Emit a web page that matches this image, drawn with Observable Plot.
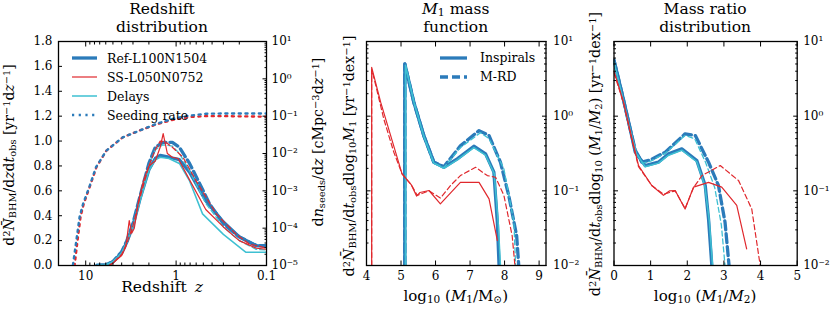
<!DOCTYPE html>
<html><head><meta charset="utf-8">
<script src="https://cdn.jsdelivr.net/npm/d3@7"></script>
<script src="https://cdn.jsdelivr.net/npm/@observablehq/plot@0.6"></script>
<style>
body{margin:0;background:#fff}
#chart{position:relative;width:830px;height:312px;font-family:"DejaVu Serif",serif;color:#000;overflow:hidden}
.lab{position:absolute;white-space:nowrap;line-height:0.7}
sub{font-size:70%;line-height:0;vertical-align:-0.22em}
sup{font-size:70%;line-height:0;vertical-align:0.45em}
.leg{position:absolute;display:flex;align-items:center;height:18px;font-size:12.5px;white-space:nowrap}
</style></head><body><div id="chart"></div>
<script>
// ---------- Panel 1: redshift distribution (left axis, linear) ----------
const refInsZ = [7.5, 6, 5, 4, 3.5, 3, 2.5, 2, 1.7, 1.5, 1.2, 0.92, 0.71, 0.47, 0.3, 0.2, 0.13, 0.1];
const refInsN = [0, 0.005, 0.03, 0.1, 0.19, 0.32, 0.54, 0.77, 0.86, 0.885, 0.87, 0.85, 0.75, 0.52, 0.35, 0.23, 0.16, 0.155];
const refMrdZ = [7.5, 6, 5, 4, 3.5, 3, 2.5, 2, 1.7, 1.4, 1.1, 0.92, 0.71, 0.55, 0.43, 0.3, 0.2, 0.13, 0.1];
const refMrdN = [0, 0.005, 0.03, 0.11, 0.2, 0.34, 0.56, 0.82, 0.95, 0.99, 0.99, 0.95, 0.82, 0.66, 0.5, 0.335, 0.23, 0.16, 0.16];
const ssInsZ = [7, 5.5, 5, 4, 3.6, 3.3, 3.1, 2.9, 2.6, 2.3, 2.0, 1.7, 1.5, 1.39, 1.25, 1.1, 0.95, 0.7, 0.47, 0.3, 0.2, 0.13, 0.1];
const ssInsN = [0, 0, 0.02, 0.08, 0.15, 0.36, 0.26, 0.3, 0.52, 0.68, 0.8, 0.84, 0.95, 1.06, 0.9, 0.87, 0.86, 0.68, 0.45, 0.31, 0.2, 0.14, 0.13];
const ssMrdZ = [7, 5.5, 5, 4, 3.5, 3, 2.5, 2, 1.7, 1.5, 1.3, 1.1, 0.84, 0.6, 0.36, 0.22, 0.155, 0.1];
const ssMrdN = [0, 0, 0.02, 0.09, 0.18, 0.32, 0.55, 0.8, 0.93, 1.0, 0.99, 0.95, 0.87, 0.68, 0.415, 0.255, 0.174, 0.14];
const delInsZ = [7.5, 6, 5, 4, 3.5, 3, 2.5, 2, 1.7, 1.5, 1.2, 0.92, 0.71, 0.51, 0.3, 0.17, 0.1];
const delInsN = [0, 0.005, 0.03, 0.1, 0.19, 0.31, 0.52, 0.76, 0.85, 0.87, 0.86, 0.82, 0.68, 0.415, 0.25, 0.107, 0.107];
const delMrdZ = [7.5, 6, 5, 4, 3.5, 3, 2.5, 2, 1.7, 1.4, 1.1, 0.92, 0.71, 0.47, 0.3, 0.2, 0.13, 0.1];
const delMrdN = [0, 0.005, 0.03, 0.1, 0.19, 0.32, 0.55, 0.8, 0.93, 0.97, 0.96, 0.9, 0.76, 0.5, 0.31, 0.2, 0.13, 0.125];
// seeding rate (right axis, log)
const seedRefZ = [15, 13.8, 12.7, 11.7, 10.7, 9.1, 7.7, 5.9, 3.9, 2.55, 1.66, 1.09, 0.71, 0.47, 0.3, 0.1];
const seedRefN = [2e-6, 1.1e-5, 4.7e-5, 2e-4, 4.5e-4, 1.3e-3, 4.3e-3, 0.012, 0.027, 0.041, 0.062, 0.085, 0.104, 0.116, 0.118, 0.118];
const seedSSZ = [14, 13.2, 12.3, 11.4, 10.5, 9.0, 7.6, 5.9, 3.9, 2.55, 1.66, 1.09, 0.71, 0.47, 0.3, 0.1];
const seedSSN = [2e-6, 1.1e-5, 4.7e-5, 2e-4, 4.5e-4, 1.3e-3, 4.3e-3, 0.012, 0.027, 0.041, 0.06, 0.08, 0.095, 0.1, 0.1, 0.097];
const p1LeftTicks = [0, 0.2, 0.4, 0.6, 0.8, 1.0, 1.2, 1.4, 1.6, 1.8];
const p1XTicks = [10, 1, 0.1];
const p1RightTicks = [1e-5, 1e-4, 1e-3, 1e-2, 1e-1, 1e0, 1e1];

// ---------- Panel 2: M1 mass function ----------
const refIns2X = [5.11, 5.11, 5.37, 5.66, 5.95, 6.24, 6.63, 7.11, 7.45, 7.69, 7.79, 7.84];
const refIns2Y = [0.01, 5.0, 1.54, 0.55, 0.242, 0.207, 0.268, 0.396, 0.313, 0.178, 0.038, 0.01];
const refMrd2X = [5.11, 5.11, 5.37, 5.66, 5.95, 6.24, 6.72, 7.26, 7.55, 7.88, 8.12, 8.35, 8.41];
const refMrd2Y = [0.01, 5.0, 1.54, 0.55, 0.242, 0.21, 0.40, 0.64, 0.55, 0.242, 0.087, 0.025, 0.01];
const delIns2X = [5.13, 5.13, 5.38, 5.66, 5.95, 6.24, 6.63, 7.11, 7.45, 7.7, 7.82, 7.88];
const delIns2Y = [0.01, 4.8, 1.5, 0.54, 0.235, 0.2, 0.26, 0.38, 0.3, 0.17, 0.035, 0.01];
const delMrd2X = [5.13, 5.13, 5.38, 5.66, 5.95, 6.24, 6.72, 7.3, 7.55, 7.98, 8.27, 8.32];
const delMrd2Y = [0.01, 4.8, 1.5, 0.54, 0.235, 0.205, 0.38, 0.6, 0.5, 0.197, 0.038, 0.01];
const ssIns2X = [4.15, 4.15, 4.41, 4.70, 5.03, 5.30, 5.45, 5.55, 5.81, 6.14, 6.72, 7.26, 7.55, 7.79];
const ssIns2Y = [0.01, 4.5, 1.54, 0.55, 0.169, 0.12, 0.085, 0.095, 0.101, 0.067, 0.13, 0.13, 0.078, 0.0216];
const ssMrd2X = [4.15, 4.15, 4.25, 4.5, 4.79, 5.03, 5.30, 5.47, 5.81, 6.14, 6.45, 6.72, 7.16, 7.5, 7.74, 7.98, 8.22, 8.3];
const ssMrd2Y = [0.01, 4.2, 2.8, 0.92, 0.33, 0.169, 0.12, 0.087, 0.1, 0.08, 0.12, 0.16, 0.207, 0.16, 0.152, 0.087, 0.025, 0.01];
const p2XTicks = [4, 5, 6, 7, 8, 9];

// ---------- Panel 3: mass ratio distribution ----------
const refIns3X = [0, 0.21, 0.40, 0.58, 0.85, 1.21, 1.49, 1.85, 2.26, 2.49, 2.58, 2.67];
const refIns3Y = [5.6, 2.1, 0.83, 0.33, 0.218, 0.242, 0.313, 0.365, 0.255, 0.118, 0.042, 0.01];
const refMrd3X = [0, 0.21, 0.40, 0.58, 0.76, 1.0, 1.40, 1.94, 2.22, 2.58, 2.85, 3.03, 3.14];
const refMrd3Y = [5.6, 2.1, 0.83, 0.35, 0.242, 0.26, 0.33, 0.58, 0.55, 0.242, 0.118, 0.038, 0.01];
const delIns3X = [0, 0.21, 0.40, 0.6, 0.85, 1.21, 1.49, 1.85, 2.26, 2.48, 2.6, 2.69];
const delIns3Y = [5.3, 2.0, 0.8, 0.32, 0.21, 0.235, 0.3, 0.35, 0.245, 0.115, 0.04, 0.01];
const delMrd3X = [0, 0.21, 0.40, 0.6, 0.78, 1.0, 1.4, 1.94, 2.2, 2.5, 2.75, 2.93, 3.03];
const delMrd3Y = [5.3, 2.0, 0.8, 0.33, 0.235, 0.25, 0.32, 0.55, 0.5, 0.24, 0.11, 0.035, 0.01];
const ssIns3X = [0, 0.26, 0.49, 0.67, 1.03, 1.35, 1.52, 1.67, 1.94, 2.17, 2.58, 2.94, 3.35, 3.62];
const ssIns3Y = [4.0, 1.54, 0.50, 0.218, 0.118, 0.087, 0.1, 0.101, 0.057, 0.112, 0.13, 0.112, 0.064, 0.0167];
const ssMrd3X = [0, 0.26, 0.49, 0.67, 1.03, 1.35, 1.67, 1.94, 2.17, 2.40, 2.90, 3.40, 3.76, 3.99];
const ssMrd3Y = [3.8, 1.5, 0.48, 0.21, 0.118, 0.09, 0.1, 0.058, 0.11, 0.16, 0.218, 0.137, 0.057, 0.01];
const p3XTicks = [0, 1, 2, 3, 4, 5];
const logTicks23 = [1e-2, 1e-1, 1e0, 1e1];

// ---------- styling ----------
const W = 830, H = 312, TOP = 41, BOT = 265;
const COL = {ref: "#2b7bba", ss: "#e0282d", del: "#3ec0d2"};
const SVGSTYLE = "position:absolute;left:0;top:0;background:transparent;overflow:visible;font-family:'DejaVu Serif',serif;font-size:12px;color:#000";
const pts = (xs, ys) => xs.map((x, i) => ({x, y: ys[i]}));
const minorLog = (e0, e1) => d3.range(e0, e1).flatMap(e => d3.range(2, 10).map(m => m * 10 ** e));
const supMap = {"-": "⁻", "0": "⁰", "1": "¹", "2": "²", "3": "³", "4": "⁴", "5": "⁵"};
const pow10 = d => "10" + String(Math.round(Math.log10(d))).replace(/./g, c => supMap[c]);
const box = (l, r) => ({width: W, height: H, marginLeft: l, marginRight: W - r, marginTop: TOP, marginBottom: H - BOT, style: SVGSTYLE});
const ln = (data, stroke, sw, dash, offset) => Plot.line(data, {x: "x", y: "y", stroke, strokeWidth: sw, strokeDasharray: dash, strokeDashoffset: offset, clip: true});
const DASH_T = "9,4", DASH_t = "5,3", DOTS = "2.2,4.5";
const tickOnly = (axis, ticks, anchor, size) => axis(ticks, {anchor, tickSize: -size, fill: "none", label: null});

function seriesMarks(ref1, ref2, del1, del2, ss1, ss2) {
  return [
    ln(ref1, COL.ref, 3.3), ln(ref2, COL.ref, 3.3, DASH_T),
    ln(del1, COL.del, 1.5), ln(del2, COL.del, 1.3, DASH_t),
    ln(ss1, COL.ss, 1.2), ln(ss2, COL.ss, 1.2, DASH_t)
  ];
}

const chart = document.getElementById("chart");

// Panel 1 main (linear)
const P1L = 58, P1R = 266;
chart.append(Plot.plot({
  ...box(P1L, P1R),
  x: {type: "log", domain: [20, 0.1], label: null},
  y: {domain: [0, 1.8], label: null},
  marks: [
    ...seriesMarks(pts(refInsZ, refInsN), pts(refMrdZ, refMrdN), pts(delInsZ, delInsN), pts(delMrdZ, delMrdN), pts(ssInsZ, ssInsN), pts(ssMrdZ, ssMrdN)),
    Plot.axisY(p1LeftTicks, {anchor: "left", tickSize: 0, tickPadding: 6, tickFormat: d3.format(".1f"), label: null}),
    tickOnly(Plot.axisY, p1LeftTicks, "left", 4),
    Plot.axisX(p1XTicks, {anchor: "bottom", tickSize: 0, tickPadding: 5.5, tickFormat: d => String(d), label: null}),
    tickOnly(Plot.axisX, p1XTicks, "bottom", 4.5),
    tickOnly(Plot.axisX, minorLog(-1, 1), "bottom", 2.5),
    tickOnly(Plot.axisX, p1XTicks, "top", 4.5),
    tickOnly(Plot.axisX, minorLog(-1, 1), "top", 2.5),
    Plot.frame({strokeWidth: 1.3})
  ]
}));

// Panel 1 right axis (log) with seeding rate
chart.append(Plot.plot({
  ...box(P1L, P1R),
  x: {type: "log", domain: [20, 0.1], axis: null, label: null},
  y: {type: "log", domain: [1e-5, 10], label: null},
  marks: [
    ln(pts(seedSSZ, seedSSN), COL.ss, 2.3, DOTS, 1.3),
    ln(pts(seedRefZ, seedRefN), COL.ref, 2.3, DOTS, 0),
    Plot.axisY(p1RightTicks, {anchor: "right", tickSize: 0, tickPadding: 5, tickFormat: pow10, label: null}),
    tickOnly(Plot.axisY, p1RightTicks, "right", 4.5),
    tickOnly(Plot.axisY, minorLog(-5, 1), "right", 2.5)
  ]
}));

// Panel 2
const P2L = 366, P2R = 545.5;
chart.append(Plot.plot({
  ...box(P2L, P2R),
  x: {domain: [4, 9.2], label: null},
  y: {type: "log", domain: [0.01, 10], label: null},
  marks: [
    ...seriesMarks(pts(refIns2X, refIns2Y), pts(refMrd2X, refMrd2Y), pts(delIns2X, delIns2Y), pts(delMrd2X, delMrd2Y), pts(ssIns2X, ssIns2Y), pts(ssMrd2X, ssMrd2Y)),
    Plot.axisX(p2XTicks, {anchor: "bottom", tickSize: 0, tickPadding: 5.5, tickFormat: d => String(d), label: null}),
    tickOnly(Plot.axisX, p2XTicks, "bottom", 4.5),
    tickOnly(Plot.axisX, p2XTicks, "top", 4.5),
    Plot.axisY(logTicks23, {anchor: "right", tickSize: 0, tickPadding: 7, tickFormat: pow10, label: null}),
    tickOnly(Plot.axisY, logTicks23, "right", 4.5),
    tickOnly(Plot.axisY, minorLog(-2, 1), "right", 2.5),
    tickOnly(Plot.axisY, logTicks23, "left", 4.5),
    tickOnly(Plot.axisY, minorLog(-2, 1), "left", 2.5),
    Plot.frame({strokeWidth: 1.3})
  ]
}));

// Panel 3
const P3L = 613.5, P3R = 796.7;
chart.append(Plot.plot({
  ...box(P3L, P3R),
  x: {domain: [0, 5], label: null},
  y: {type: "log", domain: [0.01, 10], label: null},
  marks: [
    ...seriesMarks(pts(refIns3X, refIns3Y), pts(refMrd3X, refMrd3Y), pts(delIns3X, delIns3Y), pts(delMrd3X, delMrd3Y), pts(ssIns3X, ssIns3Y), pts(ssMrd3X, ssMrd3Y)),
    Plot.axisX(p3XTicks, {anchor: "bottom", tickSize: 0, tickPadding: 5.5, tickFormat: d => String(d), label: null}),
    tickOnly(Plot.axisX, p3XTicks, "bottom", 4.5),
    tickOnly(Plot.axisX, p3XTicks, "top", 4.5),
    Plot.axisY(logTicks23, {anchor: "right", tickSize: 0, tickPadding: 6, tickFormat: pow10, label: null}),
    tickOnly(Plot.axisY, logTicks23, "right", 4.5),
    tickOnly(Plot.axisY, minorLog(-2, 1), "right", 2.5),
    tickOnly(Plot.axisY, logTicks23, "left", 4.5),
    tickOnly(Plot.axisY, minorLog(-2, 1), "left", 2.5),
    Plot.frame({strokeWidth: 1.3})
  ]
}));

// ---------- text: titles & axis labels ----------
function label(html, cx, baseline, fs, rotate) {
  const d = document.createElement("div");
  d.className = "lab";
  d.style.fontSize = fs + "px";
  d.innerHTML = html;
  if (rotate) {
    d.style.left = cx + "px"; d.style.top = baseline + "px";
    d.style.transform = "translate(-50%,-50%) rotate(-90deg)";
  } else {
    d.style.left = cx + "px"; d.style.top = (baseline - 0.696 * fs) + "px";
    d.style.transform = "translateX(-50%)";
  }
  chart.append(d);
}
function title(lines, cx) {
  lines.forEach((html, i) => {
    const d = document.createElement("div");
    d.className = "lab";
    Object.assign(d.style, {left: cx + "px", top: (15 + 18 * i - 0.696 * 15.5) + "px", transform: "translateX(-50%)", fontSize: "15.5px"});
    d.innerHTML = html;
    chart.append(d);
  });
}
const NBAR = "<i>N&#772;</i>";
title(["Redshift", "distribution"], (P1L + P1R) / 2);
title(["<i>M</i><sub>1</sub> mass", "function"], (P2L + P2R) / 2);
title(["Mass ratio", "distribution"], (P3L + P3R) / 2);
label("Redshift <i style=\"margin-left:3px\">z</i>", (P1L + P1R) / 2, 293, 15.5);
label("log<sub>10</sub> (<i>M</i><sub>1</sub>/M<sub>&#8857;</sub>)", (P2L + P2R) / 2, 301.5, 15);
label("log<sub>10</sub> (<i>M</i><sub>1</sub>/<i>M</i><sub>2</sub>)", (P3L + P3R) / 2, 301.5, 15);
label(`d<sup>2</sup>${NBAR}<sub>BHM</sub>/d<i>z</i>d<i>t</i><sub>obs</sub> [yr<sup>&#8722;1</sup>d<i>z</i><sup>&#8722;1</sup>]`, 10, 155, 14, true);
label(`d<i>n</i><sub>seeds</sub>/d<i>z</i> [cMpc<sup>&#8722;3</sup>d<i>z</i><sup>&#8722;1</sup>]`, 318.5, 142, 14.2, true);
label(`d<sup>2</sup>${NBAR}<sub>BHM</sub>/d<i>t</i><sub>obs</sub>dlog<sub>10</sub><i>M</i><sub>1</sub> [yr<sup>&#8722;1</sup>dex<sup>&#8722;1</sup>]`, 350, 156, 14.2, true);
label(`d<sup>2</sup>${NBAR}<sub>BHM</sub>/d<i>t</i><sub>obs</sub>dlog<sub>10</sub> (<i>M</i><sub>1</sub>/<i>M</i><sub>2</sub>) [yr<sup>&#8722;1</sup>dex<sup>&#8722;1</sup>]`, 595, 153.5, 14.3, true);

// ---------- legends ----------
function legend(x, y, w, gap, stroke, sw, dash, text) {
  const d = document.createElement("div");
  d.className = "leg";
  d.style.left = x + "px"; d.style.top = (y - 9) + "px";
  d.innerHTML = `<svg width="${w}" height="18" style="overflow:visible"><line x1="0" x2="${w}" y1="9" y2="9" stroke="${stroke}" stroke-width="${sw}" ${dash ? `stroke-dasharray="${dash}"` : ""}/></svg><span style="margin-left:${gap}px">${text}</span>`;
  chart.append(d);
}
legend(72, 58, 25, 10, COL.ref, 3.3, null, "Ref-L100N1504");
legend(72, 77, 25, 10, COL.ss, 1.2, null, "SS-L050N0752");
legend(72, 96, 25, 10, COL.del, 1.5, null, "Delays");
legend(72, 115, 25, 10, COL.ref, 2.3, DOTS, "Seeding rate");
legend(440, 57.7, 27, 13, COL.ref, 3.3, null, "Inspirals");
legend(440, 76.7, 27, 13, COL.ref, 3.3, "8,4", "M-RD");
</script></body></html>
